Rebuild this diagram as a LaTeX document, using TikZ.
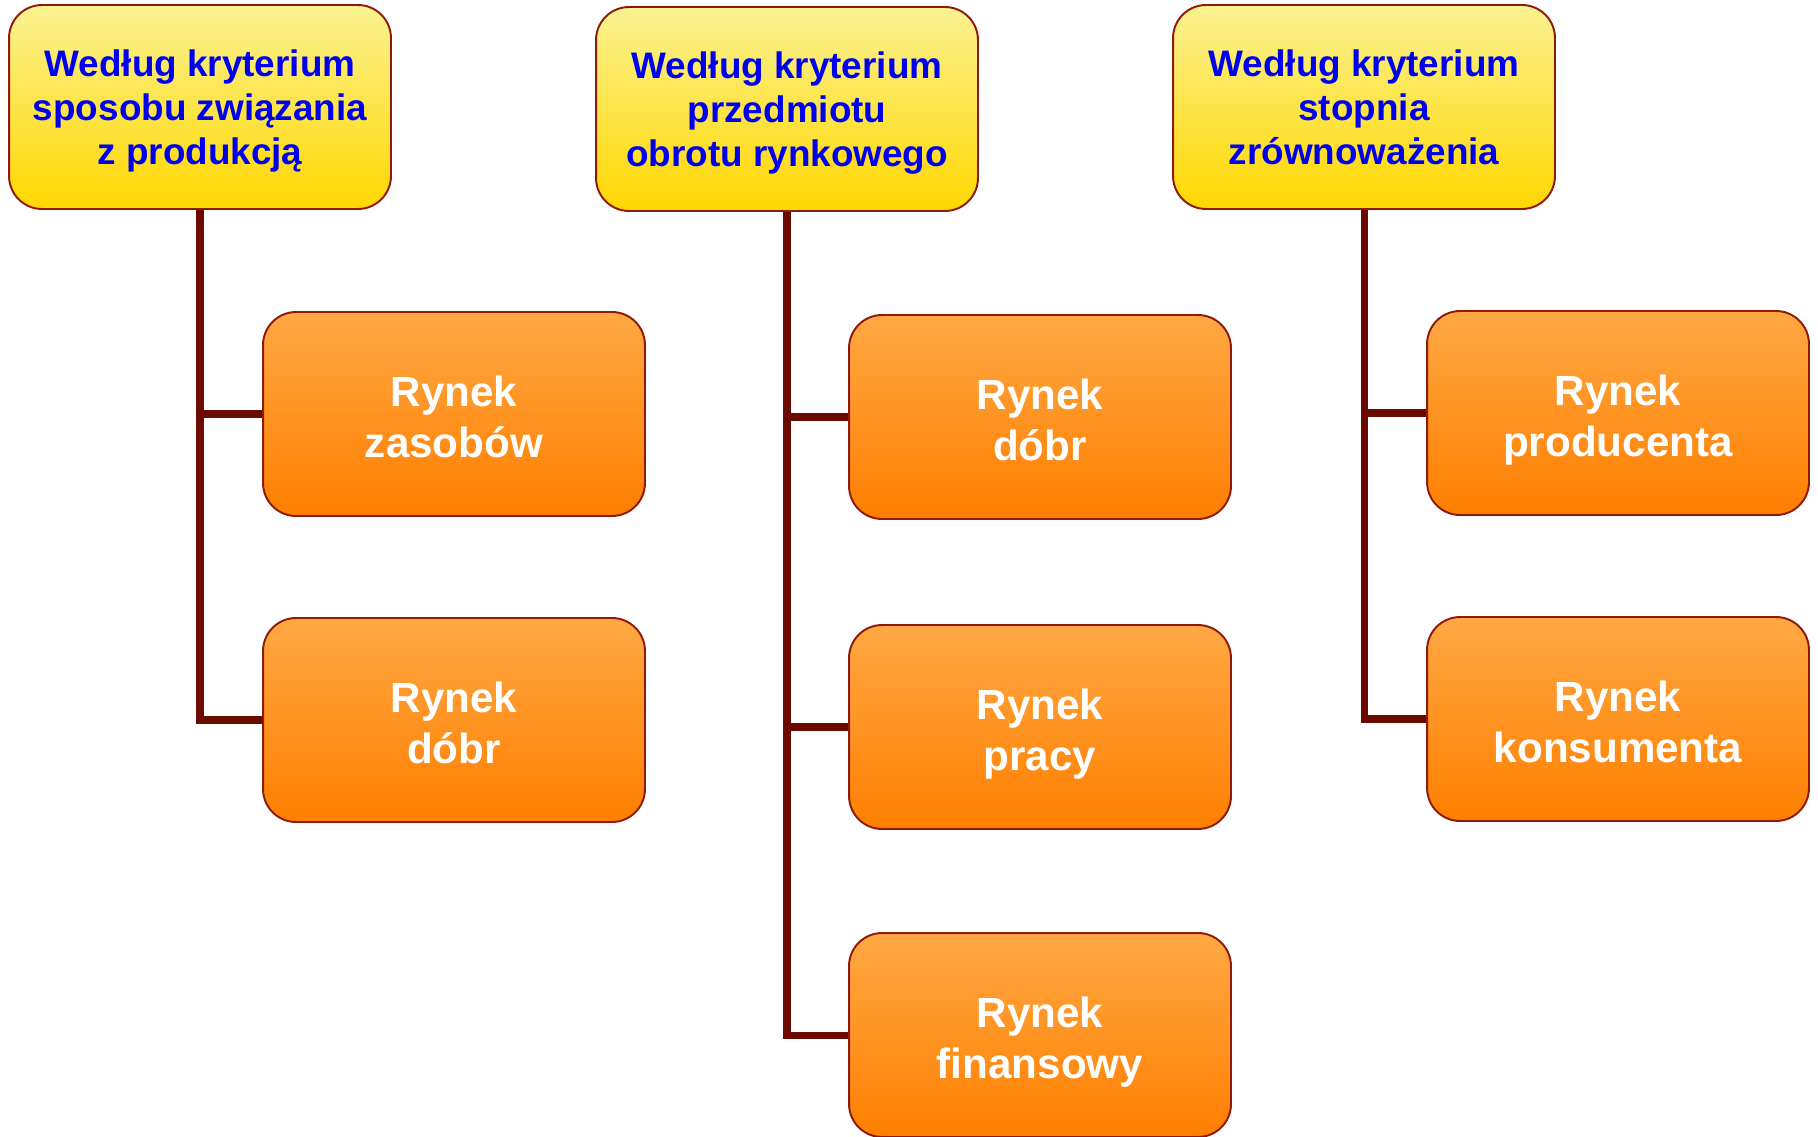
\documentclass[tikz,border=0pt]{standalone}
\usepackage{fontspec}
\setmainfont{Liberation Sans}
\begin{document}
\begin{tikzpicture}[x=0.02cm,y=-0.02cm,
  base/.style={rounded corners=0.66cm, draw=boxborder, line width=1.1pt,
    minimum width=7.64cm, minimum height=4.08cm, align=center, inner sep=0pt,
    font=\bfseries},
  crit/.style={base, top color=ylwtop, bottom color=ylwbot, text=critblue,
    font=\fontsize{21}{25}\selectfont\bfseries, text depth=0pt},
  mkt/.style={base, top color=orgtop, bottom color=orgbot, text=white,
    font=\fontsize{24}{29}\selectfont\bfseries, text height=49pt, text depth=0pt},
  link/.style={draw=linkcol, line width=4pt}]
\definecolor{boxborder}{HTML}{8E1A0A}
\definecolor{ylwtop}{HTML}{FAF291}
\definecolor{ylwbot}{HTML}{FFD700}
\definecolor{orgtop}{HTML}{FFA844}
\definecolor{orgbot}{HTML}{FF7F00}
\definecolor{critblue}{HTML}{0000F0}
\definecolor{linkcol}{HTML}{6B0A00}
\useasboundingbox (0,0) rectangle (1818,1136);

\node[crit] (t1) at (200,107) {Według kryterium\\sposobu związania\\z produkcją};
\node[crit] (t2) at (787,109) {Według kryterium\\przedmiotu\\obrotu rynkowego};
\node[crit] (t3) at (1364,107) {Według kryterium\\stopnia\\zrównoważenia};

\node[mkt] (a1) at (454,414) {Rynek\\zasobów};
\node[mkt] (a2) at (454,720) {Rynek\\dóbr};

\node[mkt] (b1) at (1040,417) {Rynek\\dóbr};
\node[mkt] (b2) at (1040,727) {Rynek\\pracy};
\node[mkt] (b3) at (1040,1035) {Rynek\\finansowy};

\node[mkt] (c1) at (1618,413) {Rynek\\producenta};
\node[mkt] (c2) at (1618,719) {Rynek\\konsumenta};

\draw[link] (t1.south) |- (a1.west);
\draw[link] (t1.south) |- (a2.west);
\draw[link] (t2.south) |- (b1.west);
\draw[link] (t2.south) |- (b2.west);
\draw[link] (t2.south) |- (b3.west);
\draw[link] (t3.south) |- (c1.west);
\draw[link] (t3.south) |- (c2.west);
\end{tikzpicture}
\end{document}
